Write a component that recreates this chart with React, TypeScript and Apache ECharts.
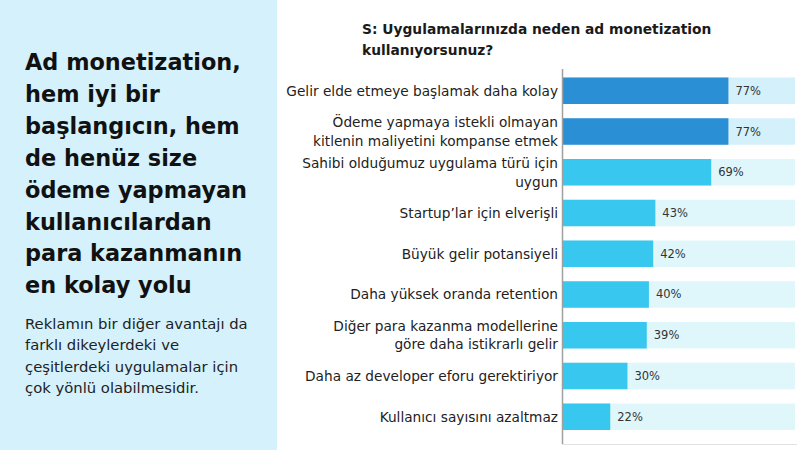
import React, { useEffect, useRef } from "react";
import * as echarts from "echarts";

const categories = [
  "Gelir elde etmeye başlamak daha kolay",
  "Ödeme yapmaya istekli olmayan\nkitlenin maliyetini kompanse etmek",
  "Sahibi olduğumuz uygulama türü için\nuygun",
  "Startup’lar için elverişli",
  "Büyük gelir potansiyeli",
  "Daha yüksek oranda retention",
  "Diğer para kazanma modellerine\ngöre daha istikrarlı gelir",
  "Daha az developer eforu gerektiriyor",
  "Kullanıcı sayısını azaltmaz",
];
const values = [77, 77, 69, 43, 42, 40, 39, 30, 22];
const AXIS_MAX = 108;
const HIGHLIGHT_COUNT = 2;

const chartTitle = "S: Uygulamalarınızda neden ad monetization\nkullanıyorsunuz?";
const headingLines = [
  "Ad monetization,",
  "hem iyi bir",
  "başlangıcın, hem",
  "de henüz size",
  "ödeme yapmayan",
  "kullanıcılardan",
  "para kazanmanın",
  "en kolay yolu",
];
const bodyLines = [
  "Reklamın bir diğer avantajı da",
  "farklı dikeylerdeki ve",
  "çeşitlerdeki uygulamalar için",
  "çok yönlü olabilmesidir.",
];

export default function App() {
  const ref = useRef<HTMLDivElement>(null);
  useEffect(() => {
    if (!ref.current) return;
    const chart = echarts.init(ref.current, null, { renderer: "svg" });
    const font = "DejaVu Sans";
    const graphic: any[] = [
      { type: "rect", shape: { x: 0, y: 0, width: 277, height: 450 }, style: { fill: "#d5f1fc" }, z: -10 },
      ...headingLines.map((t, i) => ({
        type: "text",
        x: 25,
        y: 62 + i * 31.9,
        style: { text: t, fill: "#111", font: `bold 22.4px '${font}'`, textVerticalAlign: "middle" },
      })),
      ...bodyLines.map((t, i) => ({
        type: "text",
        x: 25,
        y: 323 + i * 21.5,
        style: { text: t, fill: "#222", font: `14.8px '${font}'`, textVerticalAlign: "middle" },
      })),
      { type: "line", shape: { x1: 562.5, y1: 69, x2: 562.5, y2: 444 }, style: { stroke: "#a0a0a0", lineWidth: 1.5 }, z: 10 },
      { type: "line", shape: { x1: 562, y1: 444.5, x2: 797, y2: 444.5 }, style: { stroke: "#e2e2e2", lineWidth: 1 }, z: 10 },
    ];
    chart.setOption({
      animation: false,
      backgroundColor: "#ffffff",
      textStyle: { fontFamily: font },
      title: {
        text: chartTitle,
        left: 357,
        top: 13,
        textStyle: { fontFamily: font, fontWeight: "bold", fontSize: 13.8, color: "#1a1a1a", lineHeight: 21 },
      },
      graphic,
      grid: { left: 563, right: 5, top: 70.5, bottom: 13 },
      xAxis: {
        type: "value",
        min: 0,
        max: AXIS_MAX,
        show: false,
      },
      yAxis: {
        type: "category",
        inverse: true,
        data: categories,
        axisLine: { show: false },
        axisTick: { show: false },
        axisLabel: { fontFamily: font, fontSize: 13.7, color: "#222", lineHeight: 18.5, margin: 5 },
      },
      series: [
        {
          type: "bar",
          data: values.map(() => AXIS_MAX),
          barWidth: 26.5,
          barGap: "-100%",
          silent: true,
          itemStyle: {
            color: (p: any) => (p.dataIndex < HIGHLIGHT_COUNT ? "#d4f0fb" : "#dff7fa"),
          },
          z: 1,
        },
        {
          type: "bar",
          data: values,
          barWidth: 26.5,
          barGap: "-100%",
          itemStyle: {
            color: (p: any) => (p.dataIndex < HIGHLIGHT_COUNT ? "#2b8fd6" : "#38c7ee"),
          },
          label: {
            show: true,
            position: "right",
            distance: 7,
            formatter: "{c}%",
            fontFamily: font,
            fontSize: 11.5,
            color: "#333",
          },
          z: 2,
        },
      ],
    });
    return () => chart.dispose();
  }, []);
  return <div ref={ref} style={{ position: "fixed", left: 0, top: 0, width: 800, height: 450 }} />;
}
